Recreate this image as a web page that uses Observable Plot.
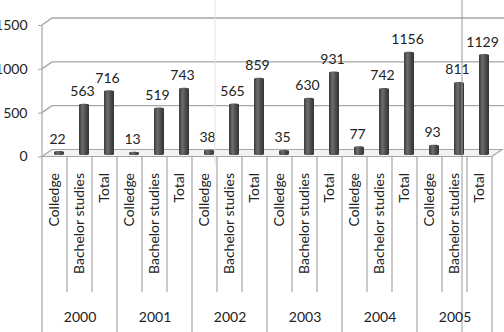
<!DOCTYPE html>
<html><head><meta charset="utf-8">
<script src="https://cdn.jsdelivr.net/npm/d3@7"></script>
<script src="https://cdn.jsdelivr.net/npm/@observablehq/plot@0.6"></script>
<style>
html,body{margin:0;padding:0;background:#fff;}
#chart{width:504px;height:332px;overflow:hidden;}
</style></head><body><div id="chart"></div>
<script>
const years = ["2000","2001","2002","2003","2004","2005"];
const levels = ["Colledge","Bachelor studies","Total"];
const colledge = [22,13,38,35,77,93];
const bachelor = [563,519,565,630,742,811];
const total = [716,743,859,931,1156,1129];
const yTicks = [0,500,1000,1500];

const series = [colledge, bachelor, total];
const rows = [];
years.forEach((yr,i)=>levels.forEach((lv,j)=>rows.push({key: yr+"|"+lv, year: yr, level: lv, value: series[j][i]})));
const keys = rows.map(d=>d.key);
const mids = years.map(y=>y+"|"+levels[1]);

const DX = 10, DY = 7;
const font = "Lato, 'Open Sans', sans-serif";
const W = 504, H = 332;

const frame3d = (index, scales, values, dims) => {
  const x = scales.x, y = scales.y;
  const bw = x.bandwidth();
  const x0 = x(keys[0]), x1 = x(keys[keys.length-1]) + bw;
  const g = d3.create("svg:g");
  const y0 = y(0);
  // floor
  g.append("path")
    .attr("d", `M${x0},${y0+DY/2}L${x0+DX},${y0-DY/2}L${x1+DX},${y0-DY/2}L${x1},${y0+DY/2}Z`)
    .attr("fill","#f3f3f3").attr("stroke","#a6a6a6").attr("stroke-width",1.2);
  // back-wall gridlines with left diagonals
  for (const t of yTicks) {
    if (t === 0) continue;
    g.append("path")
      .attr("d", `M${x0},${y(t)+DY/2}L${x0+DX},${y(t)-DY/2}L${dims.width},${y(t)-DY/2}`)
      .attr("fill","none").attr("stroke","#a6a6a6").attr("stroke-width",1.4);
  }
  // front vertical axis line
  g.append("line").attr("x1",x0).attr("x2",x0)
    .attr("y1",y(yTicks[yTicks.length-1])+DY/2).attr("y2",y0+DY/2)
    .attr("stroke","#a6a6a6").attr("stroke-width",1.2);
  return g.node();
};

const separators = (index, scales, values, dims) => {
  const x = scales.x, y = scales.y;
  const bw = x.bandwidth();
  const top = y(0) + DY/2;
  const g = d3.create("svg:g").attr("stroke","#a6a6a6").attr("stroke-width",1.2);
  keys.forEach((k,i) => {
    const xx = x(k);
    const isGroup = i % 3 === 0;
    g.append("line").attr("x1",xx).attr("x2",xx).attr("y1",top)
      .attr("y2", isGroup ? dims.height : 292);
  });
  const xe = x(keys[keys.length-1]) + bw;
  g.append("line").attr("x1",xe).attr("x2",xe).attr("y1",top).attr("y2",dims.height);
  // screenshot artifact lines
  const a1 = x(years[2]+"|"+levels[0]) + 23;
  g.append("line").attr("x1",a1).attr("x2",a1).attr("y1",0).attr("y2",165)
    .attr("stroke","#e2e2e2").attr("stroke-width",1);
  const a2 = x(years[5]+"|"+levels[1]) + 20;
  g.append("line").attr("x1",a2).attr("x2",a2).attr("y1",0).attr("y2",dims.height)
    .attr("stroke","#9a9a9a").attr("stroke-width",1);
  return g.node();
};

const plot = Plot.plot({
  width: W, height: H,
  marginLeft: 42, marginRight: 0, marginTop: 21.5, marginBottom: H - 156.5,
  style: {fontFamily: font, fontSize: "14px", color: "#222", background: "white", overflow: "hidden"},
  x: {domain: keys, range: [42, 492], padding: 0},
  y: {domain: [0, 1500], range: [153, 21.5]},
  marks: [
    frame3d,
    Plot.barY(rows, {x: "key", y: "value", fill: "url(#cyl)", insetLeft: 12, insetRight: 3, insetBottom: -2, rx: 3, ry: 1.5}),
    Plot.text(rows, {x: "key", y: "value", text: d => String(d.value), dx: 2.5, dy: -8, lineAnchor: "bottom", fontSize: 14, fill: "#222"}),
    Plot.axisY({ticks: yTicks, tickSize: 4, tickPadding: 11, dy: DY/2, stroke: "#a6a6a6", fontSize: 14, label: null, tickFormat: d => String(d)}),
    separators,
    Plot.axisX({tickSize: 0, tickRotate: -90, tickPadding: 16, tickFormat: d => d.split("|")[1], fontSize: 14, label: null}),
    Plot.axisX({ticks: mids, tickSize: 0, tickPadding: 155, tickFormat: d => d.split("|")[0], fontSize: 14, label: null})
  ]
});

d3.select(plot).insert("defs", ":first-child").html(
  `<linearGradient id="cyl" x1="0" x2="1" y1="0" y2="0">
     <stop offset="0" stop-color="#3a3a3a"/>
     <stop offset="0.35" stop-color="#6c6c6c"/>
     <stop offset="0.7" stop-color="#4a4a4a"/>
     <stop offset="1" stop-color="#333"/>
   </linearGradient>`);
document.getElementById("chart").appendChild(plot);
</script></body></html>
